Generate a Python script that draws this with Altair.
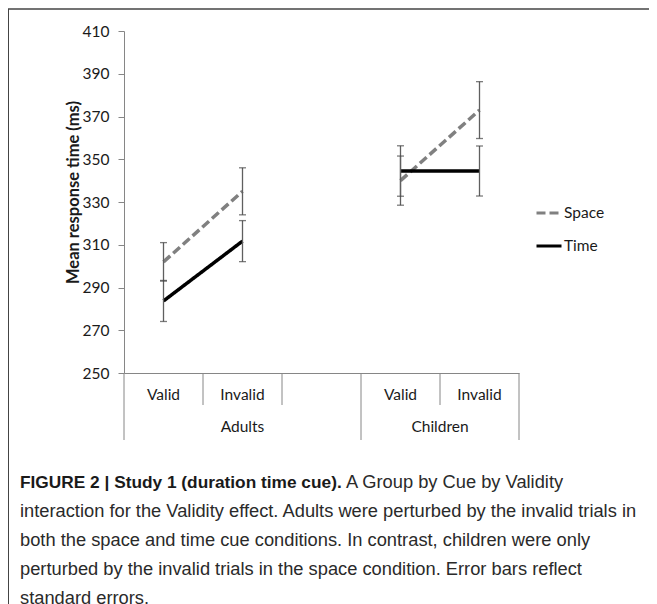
import altair as alt
import pandas as pd

# ---------------- data ----------------
slot_labels = ["Valid", "Invalid", "", "Valid", "Invalid"]
slot_groups = ["Adults", "Adults", "Adults", "Children", "Children"]
series_names = ["Space", "Time"]
space_mean = [302, 335, None, 340, 373]
space_se = [9, 11, None, 11.5, 13.3]
time_mean = [283.7, 311.7, None, 344.5, 344.5]
time_se = [9.6, 9.6, None, 11.8, 11.7]
y_ticks = [250, 270, 290, 310, 330, 350, 370, 390, 410]
y_title = "Mean response time (ms)"
caption_bold = "FIGURE 2 | Study 1 (duration time cue)."
caption_first = "A Group by Cue by Validity"
caption_rest = [
    "interaction for the Validity effect. Adults were perturbed by the invalid trials in",
    "both the space and time cue conditions. In contrast, children were only",
    "perturbed by the invalid trials in the space condition. Error bars reflect",
    "standard errors.",
]

# ---------------- tables ----------------
rows = []
for i, (lab, grp) in enumerate(zip(slot_labels, slot_groups)):
    for name, means, ses in (("Space", space_mean, space_se), ("Time", time_mean, time_se)):
        m = means[i]
        if m is None:
            continue
        rows.append(dict(slot=i + 0.5, group=grp, validity=lab, series=name,
                         mean=m, lo=m - ses[i], hi=m + ses[i]))
df = pd.DataFrame(rows)

slot_df = pd.DataFrame(dict(slot=[i + 0.5 for i in range(len(slot_labels))], label=slot_labels))

bounds = []
for i in range(len(slot_groups) + 1):
    outer = i == 0 or i == len(slot_groups) or slot_groups[i] != slot_groups[i - 1]
    bounds.append(dict(b=i, kind="outer" if outer else "inner"))
bounds_df = pd.DataFrame(bounds)

grp_rows = []
for g in dict.fromkeys(slot_groups):
    idx = [i for i, s in enumerate(slot_groups) if s == g]
    grp_rows.append(dict(center=(idx[0] + idx[-1] + 1) / 2, group=g))
grp_df = pd.DataFrame(grp_rows)

# ---------------- styling ----------------
W, H = 395, 342
AX = "#868686"
TXT = "#1a1a1a"
FONT = "Lato"
FS = 15.5

xs = alt.Scale(domain=[0, len(slot_labels)], nice=False, zero=False)
ys = alt.Scale(domain=[250, 410], nice=False, zero=False)

xaxis = alt.Axis(domain=True, domainColor=AX, domainWidth=1, ticks=False, labels=False,
                 grid=False, title=None)
yaxis = alt.Axis(values=y_ticks, tickSize=6, tickColor=AX, domainColor=AX, tickWidth=1,
                 domainWidth=1, grid=False, labelFont=FONT, labelFontSize=FS, labelColor=TXT,
                 labelPadding=9, title=y_title, titleFont=FONT, titleFontSize=16.5,
                 titleFontWeight="bold", titleColor=TXT, titleX=-51, titleY=161,
                 titleAngle=270, titleBaseline="middle", titleAlign="center")


def X(field):
    return alt.X(field, scale=xs, axis=xaxis)


def Y(field):
    return alt.Y(field, scale=ys, axis=yaxis)


legend = alt.Legend(title=None, orient="none", legendX=411, legendY=168, symbolType="stroke",
                    symbolSize=625, symbolStrokeWidth=3, labelFont=FONT, labelFontSize=FS,
                    labelColor=TXT, rowPadding=10, labelOffset=1)

color = alt.Color("series:N", scale=alt.Scale(domain=series_names, range=["#808080", "#000000"]),
                  legend=legend)
dash = alt.StrokeDash("series:N", scale=alt.Scale(domain=series_names, range=[[9, 4], [1, 0]]),
                      legend=legend)

lines = alt.Chart(df).mark_line(strokeWidth=3.5, strokeCap="butt").encode(
    x=X("slot:Q"), y=Y("mean:Q"), color=color, strokeDash=dash, detail="group:N",
)

err = alt.Chart(df).mark_rule(color="#5f5f5f", strokeWidth=1.3).encode(
    x=X("slot:Q"), y=Y("lo:Q"), y2="hi:Q",
)
cap_lo = alt.Chart(df).mark_tick(orient="horizontal", size=7, thickness=1.3, color="#444444").encode(
    x=X("slot:Q"), y=Y("lo:Q"),
)
cap_hi = alt.Chart(df).mark_tick(orient="horizontal", size=7, thickness=1.3, color="#444444").encode(
    x=X("slot:Q"), y=Y("hi:Q"),
)

sep_outer = alt.Chart(bounds_df).transform_filter("datum.kind == 'outer'").mark_rule(
    color=AX, strokeWidth=1).encode(x=X("b:Q"), y=alt.value(H), y2=alt.value(H + 67))
sep_inner = alt.Chart(bounds_df).transform_filter("datum.kind == 'inner'").mark_rule(
    color=AX, strokeWidth=1).encode(x=X("b:Q"), y=alt.value(H), y2=alt.value(H + 32))

slot_text = alt.Chart(slot_df).mark_text(font=FONT, fontSize=FS, color=TXT, baseline="middle").encode(
    x=X("slot:Q"), y=alt.value(H + 22), text="label:N")
grp_text = alt.Chart(grp_df).mark_text(font=FONT, fontSize=FS, color=TXT, baseline="middle").encode(
    x=X("center:Q"), y=alt.value(H + 54), text="group:N")

# caption
CAP_FONT = "Liberation Sans"
CAP_COL = "#2a2a2a"
cap_bold = alt.Chart(pd.DataFrame(dict(t=[caption_bold]))).mark_text(
    font=CAP_FONT, fontSize=17.3, fontWeight="bold", color="#1a1a1a", align="left",
    baseline="alphabetic").encode(x=alt.value(-104), y=alt.value(457), text="t:N")
cap_first = alt.Chart(pd.DataFrame(dict(t=[caption_first]))).mark_text(
    font=CAP_FONT, fontSize=18.3, color=CAP_COL, align="left",
    baseline="alphabetic").encode(x=alt.value(222), y=alt.value(457), text="t:N")
cap_rest = alt.Chart(pd.DataFrame(dict(t=[caption_rest]))).mark_text(
    font=CAP_FONT, fontSize=18.3, color=CAP_COL, align="left",
    baseline="alphabetic", lineHeight=29).encode(
    x=alt.value(-104), y=alt.value(486), text="t")

# frame (top and left rules of the figure box)
frame_top = alt.Chart(pd.DataFrame(dict(k=[0]))).mark_rule(color="#444444", strokeWidth=1.5).encode(
    x=alt.value(-116), x2=alt.value(533), y=alt.value(-22))
frame_left = alt.Chart(pd.DataFrame(dict(k=[0]))).mark_rule(color="#444444", strokeWidth=1).encode(
    x=alt.value(-115.5), y=alt.value(-22), y2=alt.value(580))

chart = alt.layer(
    lines, frame_top, frame_left, sep_outer, sep_inner, slot_text, grp_text,
    err, cap_lo, cap_hi, cap_bold, cap_first, cap_rest,
).properties(
    width=W, height=H,
    autosize=alt.AutoSizeParams(type="none"),
    padding={"left": 116, "top": 23, "right": 130, "bottom": 231},
    background="white",
).configure_view(stroke=None)

chart.save("out.html", embed_options={"renderer": "svg", "actions": False})
